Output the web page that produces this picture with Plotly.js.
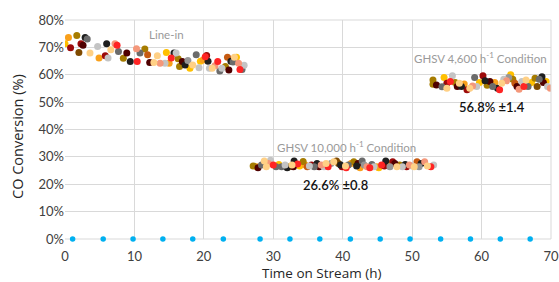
<!DOCTYPE html>
<html>
<head>
<meta charset="utf-8">
<script src="https://cdn.plot.ly/plotly-3.0.1.min.js"></script>
<style>html,body{margin:0;padding:0;background:#fff;}#chart{width:559px;height:282px;}</style>
</head>
<body>
<div id="chart"></div>
<script>
// Data (Time on Stream in h, CO conversion in %)
const goldX = [0, 14.6, 18.0, 19.5, 24.7, 30.8, 33.8, 45.2, 46.5, 54.6, 59.7, 64.2, 67.2, 69.3];
const goldY = [71.3, 68.1, 62.4, 64.9, 66.4, 27.2, 26.7, 26.0, 27.6, 59.0, 57.2, 60.0, 57.2, 57.5];
const orangeX = [0.5, 4.9, 15.0, 19.9, 27.6, 34.6, 41.2, 42.5, 44.9, 57.5, 61.9];
const orangeY = [73.6, 66.1, 64.2, 65.4, 26.4, 27.0, 27.6, 26.0, 26.4, 56.6, 57.2];
const goldenrodX = [1.7, 8.4, 11.5, 16.3, 16.5, 23.1, 27.1, 32.3, 34.3, 41.6, 48.2, 53.0, 53.0, 56.2, 60.8, 64.5, 67.7];
const goldenrodY = [74.3, 66.0, 69.4, 65.8, 63.0, 63.0, 26.7, 26.4, 28.3, 28.2, 27.0, 58.1, 56.5, 57.2, 56.2, 58.4, 58.7];
const brownX = [2.0, 39.1, 39.4, 68.0];
const brownY = [68.1, 28.5, 27.6, 55.7];
const chocolateX = [11.9, 23.4, 34.9, 50.7, 64.8];
const chocolateY = [67.3, 66.4, 26.4, 28.2, 56.9];
const darkredX = [0.8, 2.3, 5.8, 20.4, 35.5, 39.9, 46.0, 47.2, 49.2, 55.0, 57.9, 60.2];
const darkredY = [69.9, 71.3, 66.9, 67.0, 27.0, 26.4, 26.7, 28.2, 26.4, 56.9, 54.5, 59.6];
const maroonX = [2.6, 8.9, 12.2, 16.9, 23.6, 27.8, 32.9, 36.6, 42.2, 47.5, 53.5, 56.5, 61.2, 65.1, 68.9];
const maroonY = [70.8, 67.9, 64.5, 64.8, 61.7, 26.0, 26.4, 26.4, 27.6, 27.6, 56.3, 55.7, 57.5, 55.7, 57.2];
const blackX = [2.9, 6.0, 9.4, 15.7, 17.3, 20.6, 23.9, 32.0, 33.0, 36.3, 39.7, 42.0, 46.2, 49.0, 51.3, 57.1, 60.5, 62.3, 68.7];
const blackY = [73.6, 71.3, 64.8, 67.9, 63.6, 64.9, 64.9, 26.0, 28.5, 27.6, 27.0, 26.7, 28.5, 27.2, 27.6, 55.7, 57.8, 55.1, 59.3];
const dimgrayX = [3.2, 7.7, 10.8, 18.9, 22.3, 24.2, 25.5, 28.3, 30.4, 31.2, 35.9, 40.8, 42.8, 44.2, 54.3, 59.0, 61.6, 66.7, 68.3];
const dimgrayY = [73.1, 68.5, 67.9, 67.3, 61.4, 64.7, 61.9, 27.0, 26.4, 26.4, 26.4, 27.0, 28.5, 27.2, 55.6, 59.0, 55.7, 55.7, 58.4];
const grayX = [17.7, 38.3, 43.1, 46.8, 51.0, 63.9];
const grayY = [65.2, 27.6, 27.0, 26.4, 26.4, 59.0];
const lightgrayX = [4.7, 6.2, 14.4, 16.0, 19.3, 20.8, 22.6, 25.8, 29.6, 31.7, 35.2, 37.3, 44.5, 48.6, 50.0, 53.1, 55.8, 59.3, 63.2, 65.8, 69.5];
const lightgrayY = [70.3, 66.1, 64.2, 67.9, 62.6, 62.4, 62.4, 63.5, 28.8, 27.0, 26.7, 26.4, 26.4, 26.4, 26.7, 27.0, 59.6, 55.7, 58.4, 57.5, 55.7];
const salmonX = [7.2, 10.3, 13.7, 21.6, 25.0, 29.3, 36.9, 43.5, 49.6, 51.8, 58.7, 63.6, 65.4, 69.9];
const salmonY = [71.3, 69.5, 64.2, 63.3, 64.2, 27.6, 27.0, 26.4, 27.0, 28.2, 55.9, 57.8, 54.7, 55.1];
const redX = [7.5, 10.4, 15.3, 20.2, 22.0, 25.2, 30.0, 33.5, 37.9, 40.5, 43.9, 45.6, 52.7, 55.5, 62.6, 66.1];
const redY = [70.8, 64.8, 66.1, 66.6, 64.8, 61.9, 27.0, 27.4, 26.4, 26.0, 26.0, 27.0, 26.4, 57.5, 54.5, 55.7];
const peachX = [3.6, 6.6, 12.8, 13.3, 18.4, 21.2, 24.4, 28.7, 29.0, 32.7, 37.6, 38.7, 40.4, 47.8, 50.3, 52.2, 55.0, 56.8, 58.3, 62.9, 66.4];
const peachY = [67.9, 69.1, 64.5, 66.9, 63.6, 62.4, 66.4, 28.5, 26.4, 27.0, 27.6, 28.2, 26.7, 26.4, 26.4, 26.7, 55.1, 56.9, 55.1, 56.9, 58.1];
const blankX = [1.1, 5.5, 9.8, 14.1, 18.4, 22.8, 28.1, 32.4, 36.7, 41.1, 45.4, 49.7, 54.1, 58.4, 62.7, 67.0];
const blankY = [0, 0, 0, 0, 0, 0, 0, 0, 0, 0, 0, 0, 0, 0, 0, 0];

const xTitle = 'Time on Stream (h)';
const yTitle = 'CO Conversion (%)';

const seriesList = [
  [goldX, goldY, '#FFC000'],
  [orangeX, orangeY, '#F9A01B'],
  [goldenrodX, goldenrodY, '#A67C00'],
  [brownX, brownY, '#7F4A00'],
  [chocolateX, chocolateY, '#C65A11'],
  [darkredX, darkredY, '#9C0A0A'],
  [maroonX, maroonY, '#4F0000'],
  [blackX, blackY, '#1E1E1E'],
  [dimgrayX, dimgrayY, '#6B6B6B'],
  [grayX, grayY, '#969696'],
  [lightgrayX, lightgrayY, '#C4C4C4'],
  [salmonX, salmonY, '#F4977A'],
  [redX, redY, '#FF2424'],
  [peachX, peachY, '#FFD085']
];

const FONT = 'Lato, "Noto Sans", sans-serif';
const TITLEFONT = '"Open Sans", "Noto Sans", sans-serif';
const traces = seriesList.map(s => ({
  type: 'scatter', mode: 'markers', x: s[0], y: s[1],
  marker: {color: s[2], size: 7, line: {width: 0}},
  hoverinfo: 'skip', showlegend: false
}));
traces.push({
  type: 'scatter', mode: 'markers', x: blankX, y: blankY,
  marker: {color: '#00B0F0', size: 5.5}, cliponaxis: false,
  hoverinfo: 'skip', showlegend: false
});

const layout = {
  width: 559, height: 282,
  margin: {l: 65, r: 8, t: 20, b: 43},
  paper_bgcolor: '#ffffff', plot_bgcolor: '#ffffff',
  font: {family: FONT, size: 13, color: '#404040'},
  xaxis: {
    range: [0, 70], dtick: 10, tick0: 0,
    showgrid: true, gridcolor: '#D9D9D9', gridwidth: 1,
    zeroline: false, showline: false, ticks: '',
    ticklabelstandoff: 8, automargin: false,
    tickfont: {size: 13, color: '#404040'}
  },
  yaxis: {
    range: [0, 80], dtick: 10, tick0: 0, ticksuffix: '%',
    showgrid: true, gridcolor: '#D9D9D9', gridwidth: 1,
    zeroline: false, showline: false, ticks: '',
    automargin: false,
    tickfont: {size: 13, color: '#404040'}
  },
  shapes: [
    {type: 'line', xref: 'paper', yref: 'paper', x0: 0, x1: 1, y0: 1, y1: 1, line: {color: '#D9D9D9', width: 1}},
    {type: 'line', xref: 'paper', yref: 'paper', x0: 1, x1: 1, y0: 0, y1: 1, line: {color: '#D9D9D9', width: 1}},
    {type: 'line', xref: 'paper', yref: 'paper', x0: 0, x1: 1, y0: 0, y1: 0, line: {color: '#D9D9D9', width: 1}, layer: 'below'}
  ],
  annotations: [
    {xref: 'paper', yref: 'paper', x: 0.528, y: -0.1575, xanchor: 'center', yanchor: 'middle', borderpad: 0,
     text: xTitle, showarrow: false, font: {family: TITLEFONT, size: 13.5, color: '#262626'}},
    {xref: 'paper', yref: 'paper', x: -0.099, y: 0.47, xanchor: 'center', yanchor: 'middle', textangle: -90,
     text: yTitle, showarrow: false, font: {family: TITLEFONT, size: 14.5, color: '#262626'}},
    {x: 14.6, y: 74.6, text: 'Line-in', showarrow: false, font: {size: 11.5, color: '#9A9A9A'}},
    {x: 40.6, y: 33.7, text: 'GHSV 10,000 h<sup>-1</sup> Condition', showarrow: false, font: {size: 11.5, color: '#9A9A9A'}},
    {x: 59.8, y: 66.2, text: 'GHSV 4,600 h<sup>-1</sup> Condition', showarrow: false, font: {size: 11.5, color: '#9A9A9A'}},
    {x: 38.9, y: 19.8, text: '26.6% ±0.8', showarrow: false, font: {size: 13, color: '#111111', weight: 600}},
    {x: 61.5, y: 48.3, text: '56.8% ±1.4', showarrow: false, font: {size: 13, color: '#111111', weight: 600}}
  ]
};

Plotly.newPlot('chart', traces, layout, {displayModeBar: false, staticPlot: true});
</script>
</body>
</html>
